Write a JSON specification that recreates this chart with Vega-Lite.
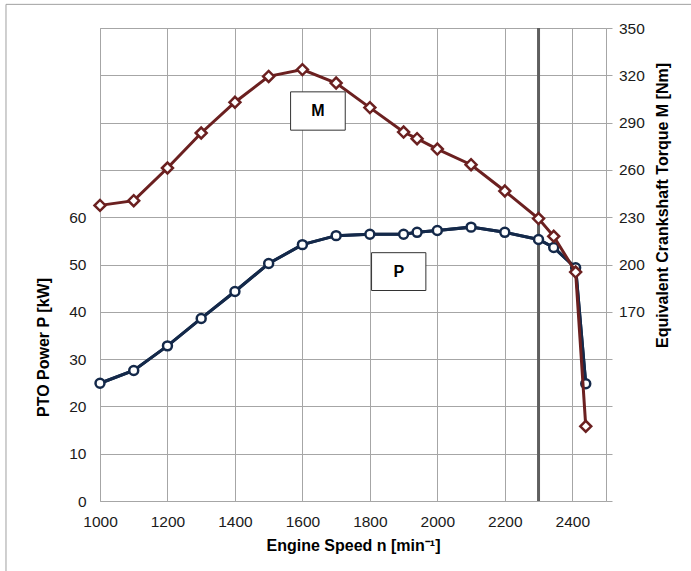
{
  "$schema": "https://vega.github.io/schema/vega-lite/v6.json",
  "width": 506,
  "height": 473,
  "autosize": {"type": "none"},
  "padding": {"left": 100, "top": 28, "right": 85, "bottom": 70},
  "background": "white",
  "config": {
    "font": "Liberation Sans",
    "view": {"stroke": "#a6a6a6", "strokeWidth": 1},
    "axis": {
      "labelFont": "Liberation Sans",
      "labelFontSize": 15.5,
      "labelColor": "#1a1a1a",
      "labelFlush": false,
      "labelOverlap": false,
      "titleFont": "Liberation Sans",
      "titleFontSize": 16,
      "titleFontWeight": "bold",
      "titleColor": "#000000",
      "gridColor": "#a6a6a6",
      "gridWidth": 1,
      "gridOpacity": 1,
      "domain": false,
      "tickColor": "#a6a6a6"
    }
  },
  "data": {
    "values": [
      {"n": 1000, "P": 24.9, "M": 237.5},
      {"n": 1100, "P": 27.6, "M": 240.5},
      {"n": 1200, "P": 32.8, "M": 261.2},
      {"n": 1300, "P": 38.6, "M": 283.4},
      {"n": 1400, "P": 44.3, "M": 302.9},
      {"n": 1500, "P": 50.2, "M": 319.3},
      {"n": 1600, "P": 54.2, "M": 323.6},
      {"n": 1700, "P": 56.1, "M": 315.1},
      {"n": 1800, "P": 56.4, "M": 299.5},
      {"n": 1900, "P": 56.4, "M": 284.0},
      {"n": 1940, "P": 56.8, "M": 279.8},
      {"n": 2000, "P": 57.2, "M": 273.2},
      {"n": 2100, "P": 57.9, "M": 263.3},
      {"n": 2200, "P": 56.8, "M": 246.6},
      {"n": 2300, "P": 55.3, "M": 229.1},
      {"n": 2345, "P": 53.6, "M": 217.9},
      {"n": 2410, "P": 49.3, "M": 195.2},
      {"n": 2440, "P": 24.8, "M": 97.4}
    ]
  },
  "layer": [
    {
      "layer": [
        {
          "mark": {"type": "line", "color": "#14294a", "strokeWidth": 3},
          "encoding": {
            "x": {
              "field": "n",
              "type": "quantitative",
              "scale": {"domain": [1000, 2500], "nice": false, "zero": false},
              "axis": {
                "title": "Engine Speed n [min⁻¹]",
                "values": [1000, 1200, 1400, 1600, 1800, 2000, 2200, 2400],
                "format": "d",
                "ticks": false,
                "labelPadding": 13,
                "titleY": 44,
                "titleBaseline": "middle"
              }
            },
            "y": {
              "field": "P",
              "type": "quantitative",
              "scale": {"domain": [0, 100], "nice": false, "zero": false},
              "axis": {
                "title": "PTO Power P [kW]",
                "values": [0, 10, 20, 30, 40, 50, 60, 70, 80, 90, 100],
                "labelExpr": "datum.value <= 60 ? datum.label : ''",
                "ticks": false,
                "labelPadding": 14,
                "titleAngle": 270,
                "titleX": -57,
                "titleY": 319,
                "titleAlign": "center",
                "titleBaseline": "middle"
              }
            }
          }
        },
        {
          "data": {"values": [{}]},
          "mark": {"type": "rule", "color": "#a0a0a0", "strokeWidth": 1},
          "encoding": {
            "x": {"datum": 721.3, "type": "quantitative"},
            "y": {"datum": 105, "type": "quantitative"},
            "y2": {"datum": -16}
          }
        },
        {
          "data": {"values": [{}]},
          "mark": {"type": "rule", "color": "#a0a0a0", "strokeWidth": 1},
          "encoding": {
            "x": {"datum": 721.3, "type": "quantitative"},
            "x2": {"datum": 2800},
            "y": {"datum": 105, "type": "quantitative"}
          }
        },
        {
          "data": {"values": [{}]},
          "mark": {"type": "rule", "color": "#5f5f5f", "strokeWidth": 3},
          "encoding": {
            "x": {"datum": 2300, "type": "quantitative"},
            "y": {"datum": 0, "type": "quantitative"},
            "y2": {"datum": 100}
          }
        },
        {
          "mark": {"type": "line", "color": "#14294a", "strokeWidth": 3},
          "encoding": {
            "x": {"field": "n", "type": "quantitative"},
            "y": {"field": "P", "type": "quantitative"}
          }
        },
        {
          "mark": {"type": "point", "shape": "circle", "filled": true, "fill": "white", "stroke": "#14294a", "strokeWidth": 2.5, "size": 80, "opacity": 1},
          "encoding": {
            "x": {"field": "n", "type": "quantitative"},
            "y": {"field": "P", "type": "quantitative"}
          }
        },
        {
          "data": {"values": [{}]},
          "mark": {"type": "rect", "fill": "white", "stroke": "#333333", "strokeWidth": 1},
          "encoding": {
            "x": {"datum": 1565, "type": "quantitative"},
            "x2": {"datum": 1727},
            "y": {"datum": 86.5, "type": "quantitative"},
            "y2": {"datum": 78.4}
          }
        },
        {
          "data": {"values": [{}]},
          "mark": {"type": "text", "text": "M", "font": "Liberation Sans", "fontSize": 16, "fontWeight": "bold", "color": "#000000", "align": "center", "baseline": "middle"},
          "encoding": {
            "x": {"datum": 1646, "type": "quantitative"},
            "y": {"datum": 82.45, "type": "quantitative"}
          }
        },
        {
          "data": {"values": [{}]},
          "mark": {"type": "rect", "fill": "white", "stroke": "#333333", "strokeWidth": 1},
          "encoding": {
            "x": {"datum": 1805, "type": "quantitative"},
            "x2": {"datum": 1966},
            "y": {"datum": 52.5, "type": "quantitative"},
            "y2": {"datum": 44.5}
          }
        },
        {
          "data": {"values": [{}]},
          "mark": {"type": "text", "text": "P", "font": "Liberation Sans", "fontSize": 16, "fontWeight": "bold", "color": "#000000", "align": "center", "baseline": "middle"},
          "encoding": {
            "x": {"datum": 1885.5, "type": "quantitative"},
            "y": {"datum": 48.5, "type": "quantitative"}
          }
        }
      ]
    },
    {
      "layer": [
        {
          "mark": {"type": "line", "color": "#6b2020", "strokeWidth": 3},
          "encoding": {
            "x": {"field": "n", "type": "quantitative"},
            "y": {
              "field": "M",
              "type": "quantitative",
              "scale": {"domain": [50, 350], "nice": false, "zero": false},
              "axis": {
                "orient": "right",
                "title": "Equivalent Crankshaft Torque M [Nm]",
                "values": [50, 80, 110, 140, 170, 200, 230, 260, 290, 320, 350],
                "labelExpr": "datum.value >= 170 ? datum.label : ''",
                "grid": false,
                "ticks": true,
                "tickSize": 6,
                "tickWidth": 1,
                "labelPadding": 6.5,
                "titleAngle": 270,
                "titleX": 56,
                "titleY": 177,
                "titleAlign": "center",
                "titleBaseline": "middle"
              }
            }
          }
        },
        {
          "mark": {"type": "point", "shape": "diamond", "filled": true, "fill": "white", "stroke": "#6b2020", "strokeWidth": 2.5, "size": 120, "opacity": 1},
          "encoding": {
            "x": {"field": "n", "type": "quantitative"},
            "y": {"field": "M", "type": "quantitative"}
          }
        }
      ]
    }
  ],
  "resolve": {"scale": {"y": "independent"}}
}
